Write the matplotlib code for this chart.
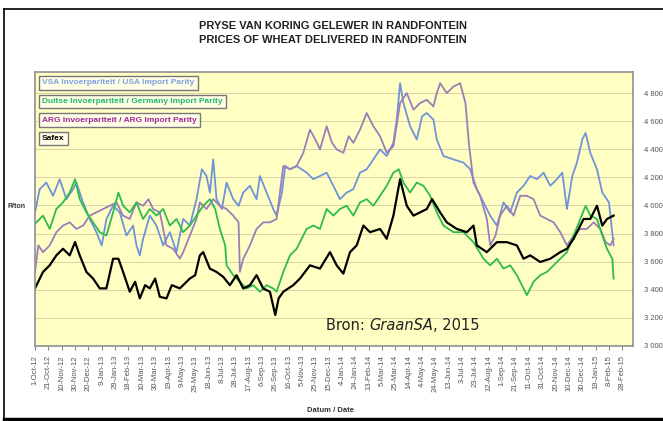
import numpy as np
import pandas as pd
import matplotlib
matplotlib.use('Agg')
import matplotlib.pyplot as plt
from matplotlib.ticker import FuncFormatter
from matplotlib.lines import Line2D

# data: day offset from 1-Oct-2012, price R/ton
start = np.datetime64('2012-10-01')

safex_days = [0, 12, 22, 32, 42, 52, 60, 67, 77, 87, 97, 107, 117, 125, 132, 142, 150, 157, 165, 172,
              180, 187, 197, 205, 217, 232, 240, 247, 252, 262, 272, 282, 292, 302, 312, 322, 332, 342,
              352, 360, 365, 372, 387, 397, 412, 427, 442, 452, 462, 472, 482, 492, 502, 517, 527, 537,
              547, 557, 567, 577, 587, 595, 607, 617, 632, 647, 657, 662, 677, 692, 707, 722, 732, 742,
              757, 772, 787, 797, 807, 822, 832, 842, 850, 857, 867]
safex = [3410, 3527, 3574, 3645, 3692, 3645, 3740, 3645, 3527, 3480, 3410, 3410, 3621, 3621, 3527,
         3386, 3457, 3339, 3433, 3410, 3480, 3350, 3339, 3433, 3410, 3480, 3504, 3645, 3668, 3551,
         3527, 3492, 3433, 3504, 3409, 3433, 3504, 3409, 3386, 3221, 3339, 3386, 3433, 3480, 3574,
         3551, 3668, 3574, 3515, 3668, 3716, 3857, 3810, 3833, 3763, 3928, 4187, 3998, 3928, 3951,
         3975, 4045, 3951, 3880, 3833, 3810, 3857, 3716, 3668, 3739, 3739, 3716, 3621, 3645, 3598,
         3621, 3668, 3692, 3763, 3904, 3904, 3998, 3857, 3904, 3928]

usa_days = [0, 7, 17, 27, 37, 47, 57, 62, 72, 82, 92, 100, 107, 117, 127, 137, 147, 152, 157, 162,
            172, 182, 192, 202, 212, 222, 232, 242, 250, 257, 262, 267, 272, 280, 287, 297, 305, 312,
            322, 332, 337, 347, 357, 362, 370, 375, 382, 392, 407, 417, 427, 437, 447, 457, 467, 477,
            487, 497, 507, 517, 527, 537, 542, 547, 552, 562, 572, 580, 587, 597, 602, 612, 627, 642,
            652, 662, 672, 682, 692, 702, 712, 722, 732, 742, 752, 762, 772, 782, 790, 797, 805, 812,
            820, 825, 832, 842, 850, 860, 867]
usa = [3950, 4116, 4163, 4069, 4187, 4045, 4116, 4163, 4022, 3904, 3810, 3716, 3904, 3998, 3951,
       3786, 3857, 3716, 3645, 3763, 3928, 3857, 3716, 3810, 3668, 3904, 3857, 4045, 4258, 4210,
       4092, 4328, 4045, 3975, 4163, 4045, 3998, 4092, 4140, 4045, 4210, 4092, 3975, 3928, 4092,
       4281, 4258, 4281, 4234, 4187, 4210, 4234, 4140, 4045, 4092, 4116, 4234, 4258, 4328, 4399,
       4352, 4446, 4611, 4870, 4729, 4564, 4470, 4635, 4658, 4611, 4470, 4352, 4328, 4305, 4258,
       4116, 4022, 3928, 3857, 4022, 3951, 4092, 4140, 4210, 4187, 4234, 4140, 4187, 4234, 3975,
       4210, 4305, 4470, 4517, 4375, 4258, 4092, 4022, 3716]

ger_days = [0, 12, 22, 32, 42, 52, 60, 67, 77, 87, 97, 107, 117, 125, 132, 142, 152, 162, 172, 182,
            192, 202, 212, 222, 232, 242, 252, 262, 270, 277, 285, 287, 297, 307, 317, 327, 337, 347,
            357, 362, 372, 382, 392, 407, 417, 427, 437, 447, 457, 467, 477, 487, 497, 507, 517, 527,
            537, 545, 552, 562, 572, 582, 592, 602, 612, 627, 642, 657, 672, 682, 692, 702, 712, 722,
            732, 737, 747, 757, 767, 777, 787, 797, 807, 817, 825, 832, 842, 850, 857, 865, 867]
ger = [3870, 3928, 3833, 3975, 4022, 4092, 4187, 4045, 3951, 3880, 3810, 3786, 3951, 4092, 3998,
       3951, 4022, 3904, 3975, 3928, 3975, 3857, 3904, 3810, 3857, 3928, 3998, 4045, 3975, 3833,
       3716, 3574, 3504, 3456, 3409, 3433, 3386, 3433, 3409, 3386, 3527, 3645, 3692, 3833, 3857,
       3833, 3975, 3928, 3975, 3998, 3928, 4022, 4045, 3998, 4069, 4140, 4234, 4258, 4163, 4092,
       4163, 4140, 4069, 3951, 3857, 3810, 3810, 3739, 3621, 3574, 3621, 3551, 3574, 3504, 3409,
       3362, 3457, 3504, 3527, 3574, 3621, 3668, 3786, 3904, 3998, 3928, 3904, 3786, 3692, 3621,
       3480]

arg_days = [0, 5, 12, 22, 32, 42, 52, 62, 72, 82, 92, 102, 112, 122, 132, 142, 152, 162, 170, 177,
            187, 197, 207, 217, 222, 232, 242, 247, 257, 267, 277, 287, 297, 305, 307, 312, 322, 332,
            342, 352, 362, 372, 382, 392, 402, 412, 420, 427, 437, 445, 452, 462, 470, 477, 487, 497,
            507, 517, 527, 537, 547, 557, 567, 577, 587, 597, 602, 607, 617, 627, 637, 645, 650, 657,
            667, 677, 682, 690, 697, 707, 717, 727, 737, 747, 757, 767, 777, 787, 797, 807, 817, 827,
            837, 847, 855, 862, 867]
arg = [3527, 3716, 3668, 3716, 3810, 3857, 3880, 3833, 3857, 3928, 3951, 3975, 3998, 4022, 3928,
       3904, 4022, 3998, 4045, 3975, 3951, 3716, 3692, 3621, 3668, 3786, 3904, 4022, 3975, 4045,
       3998, 3975, 3928, 3880, 3527, 3621, 3716, 3833, 3880, 3880, 3904, 4281, 4258, 4281, 4375,
       4540, 4470, 4399, 4564, 4446, 4399, 4375, 4493, 4446, 4540, 4658, 4564, 4493, 4375, 4422,
       4729, 4800, 4682, 4729, 4752, 4705, 4800, 4870, 4800, 4847, 4870, 4729, 4446, 4163, 4069,
       3904, 3716, 3786, 3928, 3998, 3928, 4069, 4069, 4045, 3928, 3904, 3880, 3810, 3716, 3786,
       3833, 3833, 3880, 3833, 3739, 3716, 3763]

tick_dates = pd.date_range('2012-10-01', '2015-02-28', freq='20D')
tick_labels = [f"{d.day}-{d.strftime('%b-%y')}" for d in tick_dates]

legend_labels = ['VSA Invoerpariteit / USA Import Parity',
                 'Duitse Invoerpariteit / Germany Import Parity',
                 'ARG Invoerpariteit / ARG Import Parity',
                 'Safex']
legend_colors = ['#7f9fe3', '#1fb86a', '#a0259e', 'black']

plt.rcParams['font.family'] = ['Liberation Sans Narrow', 'Liberation Sans', 'DejaVu Sans']
arial = ['Liberation Sans', 'DejaVu Sans']

fig = plt.figure(figsize=(6.63, 4.21), dpi=100)
ax = fig.add_axes([35 / 663, 1 - 346 / 421, 598 / 663, 274 / 421])
ax.set_facecolor('#ffffc4')


def d(days):
    return start + np.array(days).astype('timedelta64[D]')


ax.plot(d(usa_days), usa, color='#6f93d8', lw=1.3)
ax.plot(d(arg_days), arg, color='#9d7db8', lw=1.3)
ax.plot(d(ger_days), ger, color='#2dbb4e', lw=1.3)
ax.plot(d(safex_days), safex, color='black', lw=1.6)

ax.set_xlim(np.datetime64('2012-10-01'), np.datetime64('2015-03-16'))
ax.set_ylim(3000, 4950)
ax.set_yticks(np.arange(3000, 4801, 200))
ax.yaxis.set_major_formatter(FuncFormatter(lambda v, p: f"{int(v):,}".replace(',', ' ')))
ax.yaxis.tick_right()
ax.grid(axis='y', color='#d9d3a8', lw=0.7)
ax.set_axisbelow(True)
ax.set_xticks(tick_dates)
ax.set_xticklabels(tick_labels, rotation=90)
ax.tick_params(axis='x', labelsize=5.5, labelcolor='#555555', length=3, color='#888888')
ax.tick_params(axis='y', labelsize=5.5, labelcolor='#555555', length=0, pad=8)
for s in ax.spines.values():
    s.set_color('#909090')
    s.set_linewidth(1.2)

# title and axis labels
fig.text(0.502, 1 - 26 / 421, 'PRYSE VAN KORING GELEWER IN RANDFONTEIN', ha='center', va='center',
         fontsize=8, fontweight='bold', color='#222222', family=arial)
fig.text(0.502, 1 - 40 / 421, 'PRICES OF WHEAT DELIVERED IN RANDFONTEIN', ha='center', va='center',
         fontsize=8, fontweight='bold', color='#222222', family=arial)
fig.text(0.012, 1 - 207 / 421, 'R/ton', ha='left', va='center', fontsize=5,
         fontweight='bold', color='#333333', family=arial)
fig.text(0.498, 1 - 411 / 421, 'Datum / Date', ha='center', va='center', fontsize=5.5,
         fontweight='bold', color='#333333', family=arial)

# legend boxes
for i, (lab, col) in enumerate(zip(legend_labels, legend_colors)):
    fig.text(42 / 663, 1 - (83 + i * 18.5) / 421, lab, ha='left', va='center', fontsize=6,
             fontweight='bold', color=col,
             bbox=dict(boxstyle='square,pad=0.4', fc='#ffffe6', ec='#777777', lw=1.0))

# source text
src = ['DejaVu Sans']
t1 = fig.text(326 / 663, 1 - 325 / 421, 'Bron: ', ha='left', va='center', fontsize=10.5,
              family=src, color='#222222')
fig.canvas.draw()
r = fig.canvas.get_renderer()
bb = t1.get_window_extent(r)
t2 = fig.text(bb.x1 / fig.bbox.width, 1 - 325 / 421, 'GraanSA', ha='left', va='center',
              fontsize=10.5, style='italic', family=src, color='#222222')
bb2 = t2.get_window_extent(r)
fig.text(bb2.x1 / fig.bbox.width, 1 - 325 / 421, ', 2015', ha='left', va='center',
         fontsize=10.5, family=src, color='#222222')

# slide frame
fig.add_artist(Line2D([4 / 663, 4 / 663], [2 / 421, 1 - 9 / 421], color='black', lw=1.2))
fig.add_artist(Line2D([4 / 663, 1], [1 - 9 / 421, 1 - 9 / 421], color='black', lw=1.2))
fig.add_artist(Line2D([4 / 663, 1], [2 / 421, 2 / 421], color='black', lw=2.5))

fig.savefig('out.png', dpi=100)
